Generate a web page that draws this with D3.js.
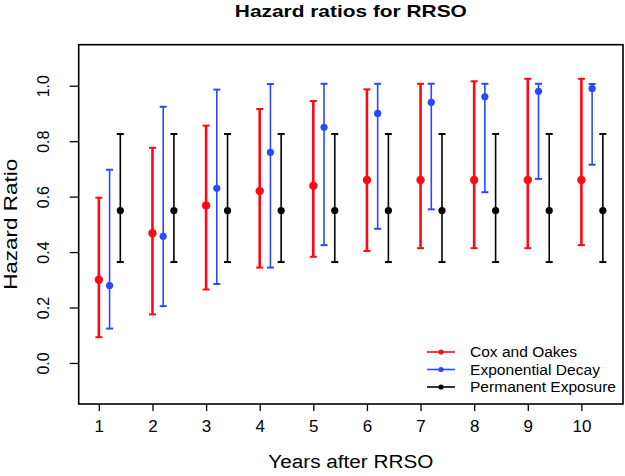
<!DOCTYPE html>
<html>
<head>
<meta charset="utf-8">
<script src="https://cdn.jsdelivr.net/npm/d3@7"></script>
<style>
  body { margin: 0; background: #fff; }
  text { font-family: "Liberation Sans", Arial, sans-serif; fill: #000; }
</style>
</head>
<body>
<svg id="chart" width="625" height="476"></svg>
<script>
'use strict';

const years = [1, 2, 3, 4, 5, 6, 7, 8, 9, 10];

const cox_est = [0.30, 0.468, 0.568, 0.62, 0.639, 0.66, 0.66, 0.66, 0.66, 0.66];
const cox_low = [0.093, 0.175, 0.265, 0.344, 0.383, 0.404, 0.414, 0.414, 0.414, 0.425];
const cox_high = [0.596, 0.776, 0.856, 0.916, 0.945, 0.987, 1.007, 1.016, 1.025, 1.025];

const exp_est = [0.279, 0.457, 0.63, 0.76, 0.85, 0.90, 0.94, 0.96, 0.98, 0.99];
const exp_low = [0.124, 0.205, 0.285, 0.344, 0.425, 0.484, 0.554, 0.616, 0.664, 0.715];
const exp_high = [0.697, 0.924, 0.986, 1.006, 1.007, 1.007, 1.007, 1.007, 1.007, 1.006];

const perm_est = [0.55, 0.55, 0.55, 0.55, 0.55, 0.55, 0.55, 0.55, 0.55, 0.55];
const perm_low = [0.364, 0.364, 0.364, 0.364, 0.364, 0.364, 0.364, 0.364, 0.364, 0.364];
const perm_high = [0.826, 0.826, 0.826, 0.826, 0.826, 0.826, 0.826, 0.826, 0.826, 0.826];

const y_ticks = [0.0, 0.2, 0.4, 0.6, 0.8, 1.0];

const series = [
  { name: 'Cox and Oakes', est: cox_est, low: cox_low, high: cox_high, offset: 0, color: '#ff0a14', width: 2.6, r: 4.2, len: 107 },
  { name: 'Exponential Decay', est: exp_est, low: exp_low, high: exp_high, offset: 0.2, color: '#2a48ff', width: 1.6, r: 3.6, len: 130 },
  { name: 'Permanent Exposure', est: perm_est, low: perm_low, high: perm_high, offset: 0.4, color: '#000000', width: 1.6, r: 3.6, len: 146 }
];

const m_left = 78.7, m_right = 623, m_top = 44.7, m_bottom = 404;

const svg = d3.select('#chart');

// R style: xlim c(1, 10.4), ylim c(-0.1, 1.1) with 4% padding
const x = d3.scaleLinear().domain([1 - 0.376, 10.4 + 0.376]).range([m_left, m_right]);
const y = d3.scaleLinear().domain([-0.148, 1.148]).range([m_bottom, m_top]);

// x axis
const xAxis = svg.append('g')
  .attr('transform', `translate(0,${m_bottom})`)
  .call(d3.axisBottom(x).tickValues(years).tickFormat(d3.format('d')).tickSize(7).tickPadding(9));
xAxis.select('.domain').remove();
xAxis.selectAll('line').attr('stroke', '#000').attr('stroke-width', 1.3);
xAxis.selectAll('text').attr('font-size', 17).style('font-family', '"Liberation Sans", Arial, sans-serif');

// y axis, labels rotated like R's las=0
const yAxis = svg.append('g')
  .attr('transform', `translate(${m_left},0)`)
  .call(d3.axisLeft(y).tickValues(y_ticks).tickFormat(d3.format('.1f')).tickSize(9));
yAxis.select('.domain').remove();
yAxis.selectAll('line').attr('stroke', '#000').attr('stroke-width', 1.3);
yAxis.selectAll('.tick text')
  .attr('font-size', 16)
  .style('font-family', '"Liberation Sans", Arial, sans-serif')
  .attr('x', 0).attr('y', 0).attr('dy', null)
  .attr('text-anchor', 'middle')
  .attr('transform', 'translate(-29.5,0) rotate(-90)');

// box
svg.append('rect')
  .attr('x', m_left).attr('y', m_top)
  .attr('width', m_right - m_left).attr('height', m_bottom - m_top)
  .attr('fill', 'none').attr('stroke', '#000').attr('stroke-width', 1.6);

// error bars
const cap = 3.5;
for (const s of series) {
  const g = svg.append('g');
  const pts = years.map((yr, i) => ({ x: yr + s.offset, est: s.est[i], low: s.low[i], high: s.high[i] }));

  g.selectAll('line.bar').data(pts).join('line').attr('class', 'bar')
    .attr('x1', d => x(d.x)).attr('x2', d => x(d.x))
    .attr('y1', d => y(d.low)).attr('y2', d => y(d.high))
    .attr('stroke', s.color).attr('stroke-width', s.width);

  g.selectAll('line.top').data(pts).join('line').attr('class', 'top')
    .attr('x1', d => x(d.x) - cap).attr('x2', d => x(d.x) + cap)
    .attr('y1', d => y(d.high)).attr('y2', d => y(d.high))
    .attr('stroke', s.color).attr('stroke-width', 2);

  g.selectAll('line.low').data(pts).join('line').attr('class', 'low')
    .attr('x1', d => x(d.x) - cap).attr('x2', d => x(d.x) + cap)
    .attr('y1', d => y(d.low)).attr('y2', d => y(d.low))
    .attr('stroke', s.color).attr('stroke-width', 2);

  g.selectAll('circle').data(pts).join('circle')
    .attr('cx', d => x(d.x)).attr('cy', d => y(d.est))
    .attr('r', s.r).attr('fill', s.color);
}

// legend (no box)
const legend = svg.append('g');
series.forEach((s, i) => {
  const ly = 352 + i * 17.5;
  legend.append('line')
    .attr('x1', 427).attr('x2', 455).attr('y1', ly).attr('y2', ly)
    .attr('stroke', s.color).attr('stroke-width', 1.6);
  legend.append('circle')
    .attr('cx', 441).attr('cy', ly).attr('r', 2.6).attr('fill', s.color);
  legend.append('text')
    .attr('x', 470).attr('y', ly).attr('dy', '0.36em')
    .attr('font-size', 14)
    .attr('textLength', s.len).attr('lengthAdjust', 'spacingAndGlyphs')
    .text(s.name);
});

// titles
svg.append('text')
  .attr('x', (m_left + m_right) / 2).attr('y', 17)
  .attr('text-anchor', 'middle')
  .attr('font-size', 17).attr('font-weight', 'bold')
  .attr('textLength', 232).attr('lengthAdjust', 'spacingAndGlyphs')
  .text('Hazard ratios for RRSO');

svg.append('text')
  .attr('x', (m_left + m_right) / 2).attr('y', 468)
  .attr('text-anchor', 'middle')
  .attr('font-size', 18)
  .attr('textLength', 165).attr('lengthAdjust', 'spacingAndGlyphs')
  .text('Years after RRSO');

svg.append('text')
  .attr('transform', `translate(17,${(m_top + m_bottom) / 2}) rotate(-90)`)
  .attr('text-anchor', 'middle')
  .attr('font-size', 18)
  .attr('textLength', 131).attr('lengthAdjust', 'spacingAndGlyphs')
  .text('Hazard Ratio');
</script>
</body>
</html>
